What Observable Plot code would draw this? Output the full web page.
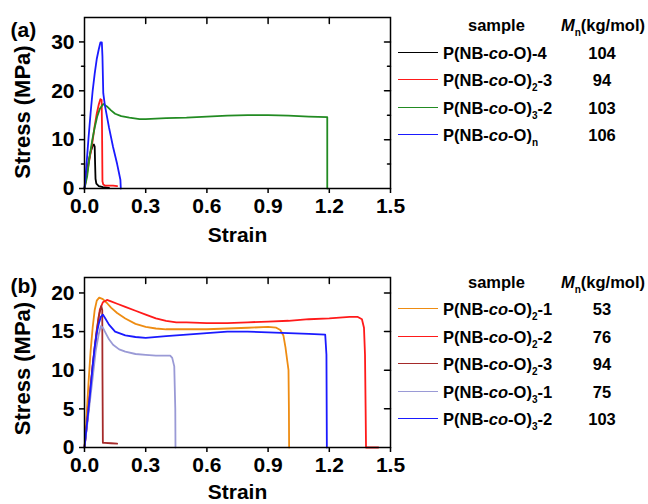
<!DOCTYPE html>
<html><head><meta charset="utf-8">
<script src="https://cdn.jsdelivr.net/npm/d3@7"></script>
<script src="https://cdn.jsdelivr.net/npm/@observablehq/plot@0.6"></script>
<style>
body{margin:0;background:#fff;width:648px;height:504px;position:relative;overflow:hidden;font-family:"Liberation Sans",Arial,sans-serif;}
.panel{position:absolute;left:0;}
.leg{position:absolute;font-weight:bold;font-size:16.5px;line-height:20px;color:#000;white-space:nowrap;}
.leg sub{font-size:10px;vertical-align:-5px;line-height:0;}
.sw{position:absolute;height:0;width:40px;border-top:1.6px solid;}
</style></head><body>
<div id="pa" class="panel" style="top:0px"></div>
<div id="pb" class="panel" style="top:260px"></div>
<div id="legend"></div>
<script>
// ---- axes ----
const strainTicks = [0, 0.3, 0.6, 0.9, 1.2, 1.5];
const strainInnerTicks = [0.3, 0.6, 0.9, 1.2];
const aStressTicks = [0, 10, 20, 30];
const aStressMinor = [5, 15, 25];
const bStressTicks = [0, 5, 10, 15, 20];

// ---- panel (a) series: [strain, stress MPa] ----
const aBlack = [[0,0],[0.01,3],[0.02,5.5],[0.03,7.5],[0.04,8.7],[0.046,9.0],[0.05,8.6],[0.052,5],[0.054,2],[0.058,1],[0.07,0.5],[0.09,0.3],[0.12,0.1]];
const aRed = [[0,0],[0.01,2.5],[0.02,5],[0.03,7.3],[0.04,9.8],[0.05,12.8],[0.06,15.3],[0.07,17.2],[0.078,18.3],[0.084,18.1],[0.086,12],[0.088,1.5],[0.092,0.8],[0.1,0.6],[0.12,0.6],[0.14,0.6],[0.16,0.5]];
const aGreen = [[0,0],[0.013,2.5],[0.025,6.5],[0.038,9.9],[0.05,12.5],[0.062,14.7],[0.075,16.3],[0.092,17.3],[0.11,16.8],[0.13,16],[0.15,15.3],[0.18,14.8],[0.22,14.5],[0.27,14.2],[0.3,14.2],[0.4,14.4],[0.5,14.5],[0.6,14.7],[0.7,14.9],[0.8,15.0],[0.9,15.0],[1.0,14.9],[1.1,14.7],[1.19,14.6],[1.19,0]];
const aBlue = [[0,0],[0.01,5],[0.02,10.5],[0.03,15.5],[0.04,20],[0.05,23.5],[0.06,26.5],[0.07,28.5],[0.078,29.9],[0.085,29.9],[0.088,27],[0.092,19.5],[0.1,17],[0.12,12.5],[0.14,8.5],[0.16,5],[0.176,1.8],[0.178,0]];

// ---- panel (b) series ----
const bOrange = [[0,0],[0.005,1.7],[0.02,8.5],[0.03,12.5],[0.04,15.5],[0.05,17.8],[0.06,19],[0.072,19.4],[0.09,19.2],[0.11,18.7],[0.13,18.1],[0.16,17.4],[0.2,16.7],[0.25,16.0],[0.3,15.6],[0.35,15.4],[0.4,15.3],[0.5,15.3],[0.6,15.3],[0.7,15.4],[0.8,15.5],[0.9,15.6],[0.94,15.5],[0.96,15.2],[0.975,14.5],[0.985,13],[0.995,11],[1.0,10],[1.002,5],[1.003,0]];
const bRed = [[0,0],[0.02,5],[0.04,10.5],[0.06,15],[0.075,17.8],[0.09,18.8],[0.11,19.1],[0.13,18.9],[0.16,18.6],[0.2,18.2],[0.25,17.7],[0.3,17.2],[0.35,16.7],[0.4,16.4],[0.45,16.2],[0.5,16.2],[0.6,16.1],[0.7,16.1],[0.8,16.2],[0.9,16.3],[1.0,16.4],[1.1,16.6],[1.2,16.7],[1.3,16.9],[1.34,16.9],[1.36,16.6],[1.37,15.5],[1.375,12],[1.378,5],[1.38,0],[1.44,0]];
const bDarkRed = [[0,0],[0.01,2.5],[0.02,5.3],[0.03,8],[0.04,10.6],[0.05,13],[0.06,15.2],[0.07,17],[0.082,18.3],[0.087,17.8],[0.088,10],[0.09,0.6],[0.1,0.6],[0.13,0.55],[0.16,0.5]];
const bLilac = [[0,0],[0.02,4.5],[0.04,9],[0.055,12.5],[0.07,14.7],[0.08,15.7],[0.09,15.5],[0.1,15],[0.12,14],[0.14,13.3],[0.17,12.7],[0.2,12.4],[0.25,12.1],[0.3,12],[0.35,11.9],[0.4,11.9],[0.42,11.9],[0.43,11.6],[0.44,10.5],[0.445,5],[0.446,0]];
const bBlue = [[0,0],[0.01,2.5],[0.02,5],[0.03,7.7],[0.04,10.5],[0.05,13],[0.06,14.8],[0.07,16],[0.08,16.9],[0.09,17.2],[0.1,16.8],[0.12,15.9],[0.15,15],[0.2,14.5],[0.25,14.3],[0.3,14.2],[0.4,14.4],[0.5,14.6],[0.6,14.8],[0.7,15],[0.8,15],[0.9,14.9],[1.0,14.8],[1.1,14.7],[1.18,14.6],[1.186,12],[1.188,0]];

// ---- legends ----
const aSubs = ["", "2", "3", "n"];
const aSuffix = ["-4", "-3", "-2", ""];
const aMn = ["104", "94", "103", "106"];
const aColors = ["#000000", "#ff1a1a", "#228b22", "#1a1aff"];
const bSubs = ["2", "2", "2", "3", "3"];
const bSuffix = ["-1", "-2", "-3", "-1", "-2"];
const bMn = ["53", "76", "94", "75", "103"];
const bColors = ["#ee8c12", "#ff1a1a", "#a52a2a", "#9a9ad6", "#1a1aff"];

const aSeries = [aBlack, aRed, aGreen, aBlue];
const bSeries = [bOrange, bRed, bDarkRed, bLilac, bBlue];

const FONT = "Liberation Sans, Arial, sans-serif";
const tickShape = {draw(ctx, l) { ctx.moveTo(0, 0); ctx.lineTo(0, -l); }};

function build(series, colors, yMax, yTicks, yMinor, tag, h, mb, xLabDy, yLabDy, tagDy) {
  const txt = {fontSize: 21, fontWeight: "bold", fill: "black"};
  const tk = {shape: tickShape, stroke: "black", strokeWidth: 1.5, anchor: "start"};
  const marks = [];
  series.forEach((s, i) => marks.push(Plot.line(s, {x: d => d[0], y: d => d[1], stroke: colors[i], strokeWidth: 1.8})));
  marks.push(
    Plot.frame({stroke: "black", strokeWidth: 1.5}),
    Plot.axisX(strainTicks, {anchor: "bottom", tickSize: 5, tickPadding: 5, tickFormat: d3.format(".1f"), label: null, strokeWidth: 1.5, ...txt}),
    Plot.axisY(yTicks, {anchor: "left", tickSize: 5, tickPadding: 5, tickFormat: d => String(d), label: null, strokeWidth: 1.5, ...txt}),
    Plot.vector(yMinor, {y: d => d, frameAnchor: "left", rotate: -90, length: 3, ...tk}),
    Plot.vector(yTicks.filter(d => d > 0), {y: d => d, frameAnchor: "right", rotate: -90, length: 6, ...tk}),
    Plot.vector(yMinor, {y: d => d, frameAnchor: "right", rotate: -90, length: 3, ...tk}),
    Plot.vector(strainInnerTicks, {x: d => d, frameAnchor: "top", rotate: 180, length: 6, ...tk}),
    Plot.text(["Strain"], {text: d => d, frameAnchor: "bottom", dy: xLabDy, textAnchor: "middle", lineAnchor: "middle", ...txt}),
    Plot.text(["Stress (MPa)"], {text: d => d, frameAnchor: "left", dx: -62, dy: yLabDy, rotate: -90, textAnchor: "middle", lineAnchor: "middle", ...txt, fontSize: 22}),
    Plot.text([tag], {text: d => d, frameAnchor: "top-left", dx: -74, dy: tagDy, textAnchor: "start", lineAnchor: "middle", ...txt})
  );
  return Plot.plot({
    width: 420, height: h, marginLeft: 84, marginRight: 30, marginTop: 17, marginBottom: mb,
    style: {fontFamily: FONT, overflow: "visible", background: "transparent"},
    x: {domain: [0, 1.5]},
    y: {domain: [0, yMax]},
    marks
  });
}
document.getElementById("pa").append(build(aSeries, aColors, 35, aStressTicks, aStressMinor, "(a)", 250, 62, 47, 9, 13));
document.getElementById("pb").append(build(bSeries, bColors, 22, bStressTicks, [], "(b)", 244, 57, 45, 6, 9));

function legend(headerY, rowY0, rowDy, subs, suffix, mns, colors) {
  const root = document.getElementById("legend");
  const add = (html, left, top, extra) => {
    const d = document.createElement("div");
    d.className = "leg";
    d.innerHTML = html;
    d.style.left = left + "px";
    d.style.top = top + "px";
    if (extra) Object.assign(d.style, extra);
    root.append(d);
  };
  add("sample", 468, headerY - 10);
  add("<i>M</i><sub>n</sub>(kg/mol)", 561, headerY - 10);
  subs.forEach((s, i) => {
    const y = rowY0 + i * rowDy;
    const sw = document.createElement("div");
    sw.className = "sw";
    sw.style.left = "398px";
    sw.style.top = (y - 1) + "px";
    sw.style.borderTopColor = colors[i];
    root.append(sw);
    add(`P(NB-<i>co</i>-O)${s ? `<sub>${s}</sub>` : ""}${suffix[i]}`, 443, y - 10);
    add(mns[i], 572, y - 10, {width: "60px", textAlign: "center"});
  });
}
legend(25, 53, 27.3, aSubs, aSuffix, aMn, aColors);
legend(282, 309, 27.5, bSubs, bSuffix, bMn, bColors);
</script>
</body></html>
